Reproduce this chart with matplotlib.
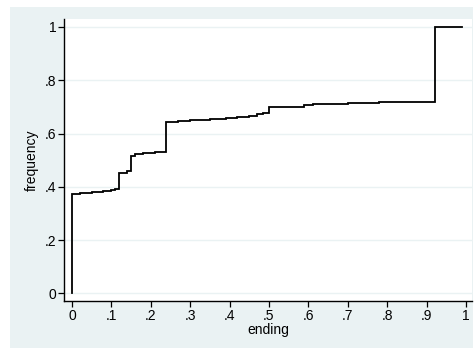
import matplotlib
matplotlib.use("Agg")
import matplotlib.pyplot as plt

# Empirical cumulative frequency of "ending": breakpoints and level after each step
ending = [0.0, 0.0, 0.02, 0.05, 0.08, 0.10, 0.11, 0.119, 0.14, 0.149, 0.16, 0.18,
          0.21, 0.23, 0.24, 0.27, 0.30, 0.35, 0.39, 0.42, 0.45, 0.469, 0.485,
          0.499, 0.59, 0.611, 0.70, 0.78, 0.92, 0.99]
frequency = [0.0, 0.372, 0.378, 0.381, 0.385, 0.388, 0.392, 0.453, 0.458, 0.516,
             0.522, 0.526, 0.529, 0.532, 0.643, 0.647, 0.650, 0.653, 0.657, 0.662,
             0.667, 0.673, 0.678, 0.701, 0.707, 0.712, 0.716, 0.720, 1.0, 1.0]

xticks = [0, .1, .2, .3, .4, .5, .6, .7, .8, .9, 1]
xtick_labels = ["0", ".1", ".2", ".3", ".4", ".5", ".6", ".7", ".8", ".9", "1"]
yticks = [0, .2, .4, .6, .8, 1]
ytick_labels = ["0", ".2", ".4", ".6", ".8", "1"]

BG = "#EAF2F3"
FS = 10
plt.rcParams["font.family"] = ["Liberation Sans", "DejaVu Sans"]

fig = plt.figure(figsize=(4.76, 3.5), dpi=100, facecolor="white")

# graph region background, inset from the white outer margin
bg = fig.add_axes([10 / 476, 2 / 350, 463 / 476, 341 / 350], zorder=-1)
bg.set_facecolor(BG)
bg.set_xticks([])
bg.set_yticks([])
for s in bg.spines.values():
    s.set_visible(False)

ax = fig.add_axes([64 / 476, 1 - 301 / 350, 408 / 476, 282 / 350], zorder=1)
ax.set_facecolor("white")
ax.plot(ending, frequency, drawstyle="steps-post", color="black", lw=1.3,
        solid_joinstyle="miter", zorder=3)

ax.set_xlim(-0.02, 1.015)
ax.set_ylim(-0.029, 1.03)
ax.set_xticks(xticks)
ax.set_xticklabels(xtick_labels)
ax.set_yticks(yticks)
ax.set_yticklabels(ytick_labels, rotation=0)
ax.grid(axis="y", color=BG, lw=1.0, zorder=1)
ax.set_axisbelow(True)

for side in ("top", "right"):
    ax.spines[side].set_visible(False)
for side in ("left", "bottom"):
    ax.spines[side].set_color("black")
    ax.spines[side].set_linewidth(1.0)

ax.tick_params(axis="both", direction="out", length=4, width=0.9,
               colors="black", labelsize=FS, pad=1.5)
ax.set_xlabel("ending", fontsize=FS, labelpad=0)
ax.set_ylabel("frequency", fontsize=FS, labelpad=4)

fig.savefig("out.png", dpi=100, facecolor="white")
